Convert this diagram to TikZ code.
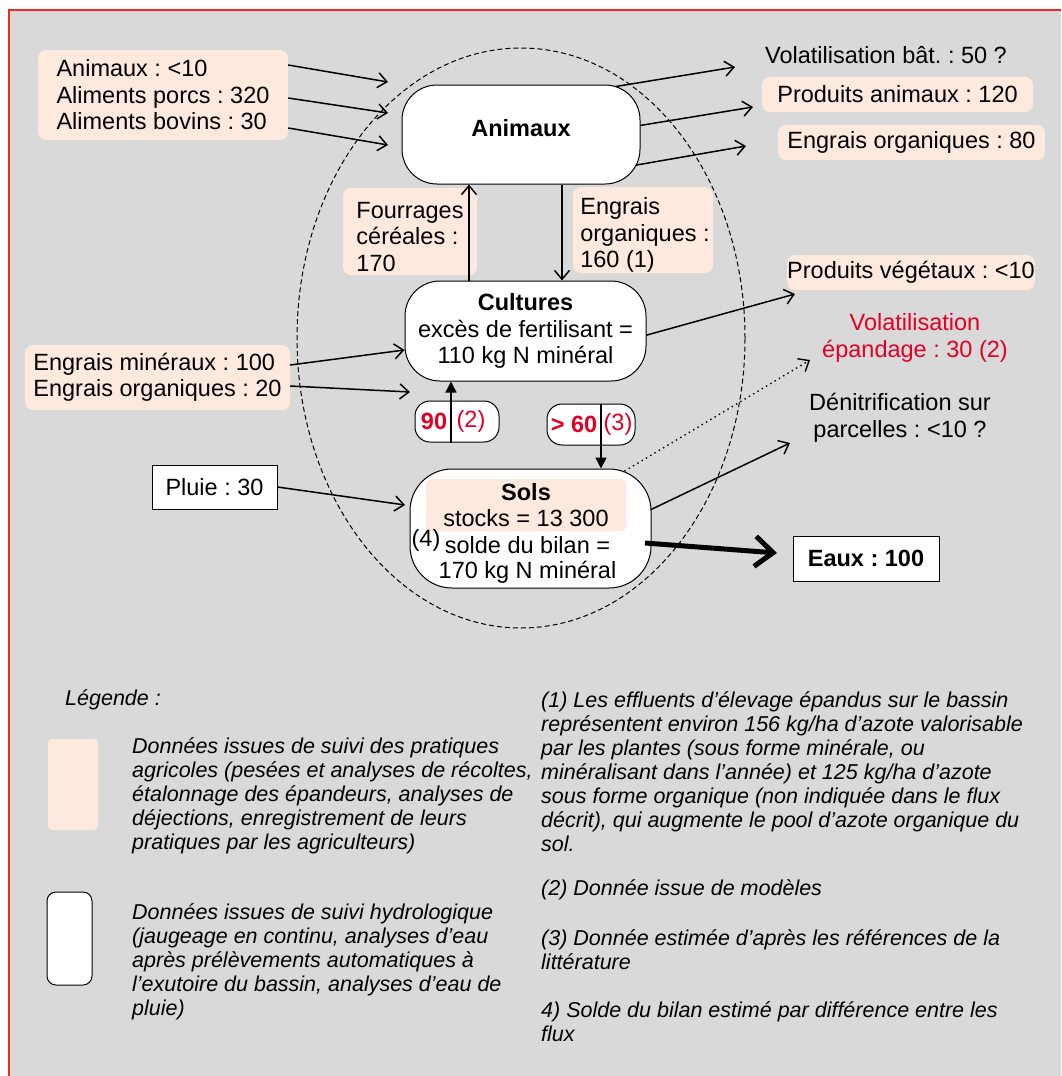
\documentclass[tikz,border=0pt]{standalone}
\usepackage{fontspec}
\setmainfont{Liberation Sans}
\usetikzlibrary{arrows.meta}
\definecolor{bg}{RGB}{217,217,217}
\definecolor{peach}{RGB}{253,233,222}
\definecolor{rouge}{RGB}{226,0,38}
\definecolor{framered}{RGB}{240,40,40}
\newcommand\mainfs{\fontsize{23.5}{26.5}\selectfont}
\newcommand\legfs{\fontsize{21.5}{24}\selectfont\itshape}
\frenchspacing
\begin{document}
\frenchspacing
\begin{tikzpicture}[x=1pt,y=-1pt,
  every node/.style={font=\mainfs, inner sep=0pt},
  peachbox/.style={fill=peach, rounded corners=8pt},
  roundbox/.style={draw, fill=white, line width=1pt, rounded corners=#1},
  plainbox/.style={draw, fill=white, line width=1pt},
  legtext/.style={anchor=west, font=\legfs, align=left},
  arr/.style={line width=1.5pt, -{Straight Barb[length=9pt,width=15pt]}},
  tri/.style={line width=1.5pt, -{Triangle[length=11pt,width=11pt]}},
  bigarr/.style={line width=5pt, -{Straight Barb[length=18pt,width=30pt]}},
  dots/.style={line width=1.4pt, dash pattern=on 1.4pt off 3.6pt, -{Straight Barb[length=9pt,width=15pt]}}
]
\useasboundingbox (0,0) rectangle (1061,1076);
\fill[bg] (9,10) rectangle (1061,1076);
\draw[framered, line width=1.2pt] (9,1076) -- (9,10) -- (1061,10);

% dashed ellipse
\draw[line width=1pt, dash pattern=on 5pt off 3pt] (521,338) ellipse [x radius=224pt, y radius=290pt];

% coordinates for free ends
\coordinate (e1) at (388,82);
\coordinate (e2) at (388,113);
\coordinate (e3) at (388,145);
\coordinate (r1) at (735,67);
\coordinate (r2) at (753,107);
\coordinate (r3) at (746,146);
\coordinate (pv) at (795,294);
\coordinate (ve) at (810,360);
\coordinate (dn) at (790,443);
\coordinate (ci2) at (410,392);
\coordinate (ps) at (405,505);
\coordinate (ew) at (777,553);

% left peach boxes
\node[peachbox, minimum width=250pt, minimum height=90pt, align=left] (intl) at (163,95)
  {Animaux : <10\\Aliments porcs : 320\\Aliments bovins : 30};
\node[peachbox, minimum width=265pt, minimum height=65pt, align=left] (inmid) at (157.5,377.5)
  {Engrais minéraux : 100\\Engrais organiques : 20};

% right labels
\node (volbat) at (886,55) {Volatilisation bât. : 50 ?};
\node[peachbox, minimum width=271pt, minimum height=35pt] (prodan) at (897.5,94.5) {Produits animaux : 120};
\node[peachbox, minimum width=267pt, minimum height=35pt] (engout) at (911.5,142.5) {Engrais organiques : 80};
\node[peachbox, minimum width=242pt, minimum height=35pt] (prodveg) at (911,272.5) {Produits végétaux : <10};
\node[text=rouge, align=center] (volep) at (915,338) {Volatilisation\\épandage : 30 (2)};
\node[align=center] (denit) at (900,418) {Dénitrification sur\\parcelles : <10 ?};

% middle peach boxes
\node[peachbox, minimum width=134pt, minimum height=87pt] (fourr) at (410,231.5) {};
\node[align=left] (fourrt) at (410,237) {Fourrages\\céréales :\\170};
\node[peachbox, minimum width=140pt, minimum height=86pt] (engorg) at (643,230) {};
\node[align=left] (engorgt) at (645,235) {Engrais\\organiques :\\160 (1)};

% arrows starting inside boxes (drawn before boxes, hidden where they cross them)
\draw[arr] (515,103) -- (r1);
\draw[arr] (533,143) -- (r2);
\draw[arr] (582,174.5) -- (r3);
\draw[arr] (573,355.5) -- (pv);
\draw[arr] (580,543.5) -- (dn);
\draw[dots] (573,502) -- (ve);

% central boxes
\node[roundbox=35pt, minimum width=238pt, minimum height=99pt] (anim) at (521,134.5) {};
\node[font=\mainfs\bfseries] (animt) at (521,128) {Animaux};
\node[roundbox=35pt, minimum width=241pt, minimum height=100pt, align=center] (cult) at (525.5,331)
  {\textbf{Cultures}\\excès de fertilisant =\\110 kg N minéral};
\node[roundbox=42pt, minimum width=241pt, minimum height=119pt] (sols) at (530.5,528.5) {};
\node[fill=peach, rounded corners=5pt, minimum width=200pt, minimum height=52pt, align=center] (solsin) at (526,505)
  {\textbf{Sols}\\stocks = 13 300};
\node (n4) at (426,540) {(4)};
\node (solde) at (527.5,545) {solde du bilan =};
\node (solde2) at (527.5,572) {170 kg N minéral};

\node[roundbox=15pt, minimum width=84pt, minimum height=41pt] (b90) at (457,421.5) {};
\node[text=rouge, font=\mainfs\bfseries] (t90a) at (434,421.5) {90};
\node[text=rouge] (t90b) at (471,421.5) {(2)};
\node[roundbox=15pt, minimum width=88pt, minimum height=41pt] (b60) at (591,424.5) {};
\node[text=rouge, font=\mainfs\bfseries] (t60a) at (574,424.5) {> 60};
\node[text=rouge] (t60b) at (618,424.5) {(3)};

\node[plainbox, minimum width=125pt, minimum height=44pt] (pluie) at (214.5,487) {Pluie : 30};
\node[plainbox, minimum width=146pt, minimum height=45pt, font=\mainfs\bfseries] (eaux) at (866,558.5) {Eaux : 100};

% arrows over boxes
\draw[arr] (intl.east |- 0,65) -- (e1);
\draw[arr] (intl.east |- 0,98) -- (e2);
\draw[arr] (intl.east |- 0,128) -- (e3);
\draw[arr] (inmid.east |- 0,365) -- (cult.west |- 0,350);
\draw[arr] (inmid.east |- 0,386) -- (ci2);
\draw[arr] (pluie.east) -- (ps);
\draw[arr] (anim.south -| 562,0) -- (cult.north -| 562,0);
\draw[arr] (cult.north -| 469,0) -- (anim.south -| 469,0);
\draw[tri] (b90.south -| 451,0) -- (cult.south -| 451,0);
\draw[tri] (b60.north -| 601,0) -- (sols.north -| 601,0);
\draw[bigarr] (645,543) -- (ew);

% legend
\node[legtext] (leg) at (65,700) {Légende :};
\node[fill=peach, rounded corners=4pt, minimum width=50pt, minimum height=91pt] (legp) at (73,784.5) {};
\node[draw, fill=white, rounded corners=9pt, line width=1pt, minimum width=45pt, minimum height=93pt] (legw) at (69.5,938.5) {};
\node[legtext] (legt1) at (132,796) {Données issues de suivi des pratiques\\agricoles (pesées et analyses de récoltes,\\étalonnage des épandeurs, analyses de\\déjections, enregistrement de leurs\\pratiques par les agriculteurs)};
\node[legtext] (legt2) at (132,962) {Données issues de suivi hydrologique\\(jaugeage en continu, analyses d’eau\\après prélèvements automatiques à\\l’exutoire du bassin, analyses d’eau de\\pluie)};
\node[legtext] (note1) at (541,772) {(1) Les effluents d’élevage épandus sur le bassin\\représentent environ 156 kg/ha d’azote valorisable\\par les plantes (sous forme minérale, ou\\minéralisant dans l’année) et 125 kg/ha d’azote\\sous forme organique (non indiquée dans le flux\\décrit), qui augmente le pool d’azote organique du\\sol.};
\node[legtext] (note2) at (541,890) {(2) Donnée issue de modèles};
\node[legtext] (note3) at (541,950) {(3) Donnée estimée d’après les références de la\\littérature};
\node[legtext] (note4) at (541,1022) {4) Solde du bilan estimé par différence entre les\\flux};
\end{tikzpicture}
\end{document}
